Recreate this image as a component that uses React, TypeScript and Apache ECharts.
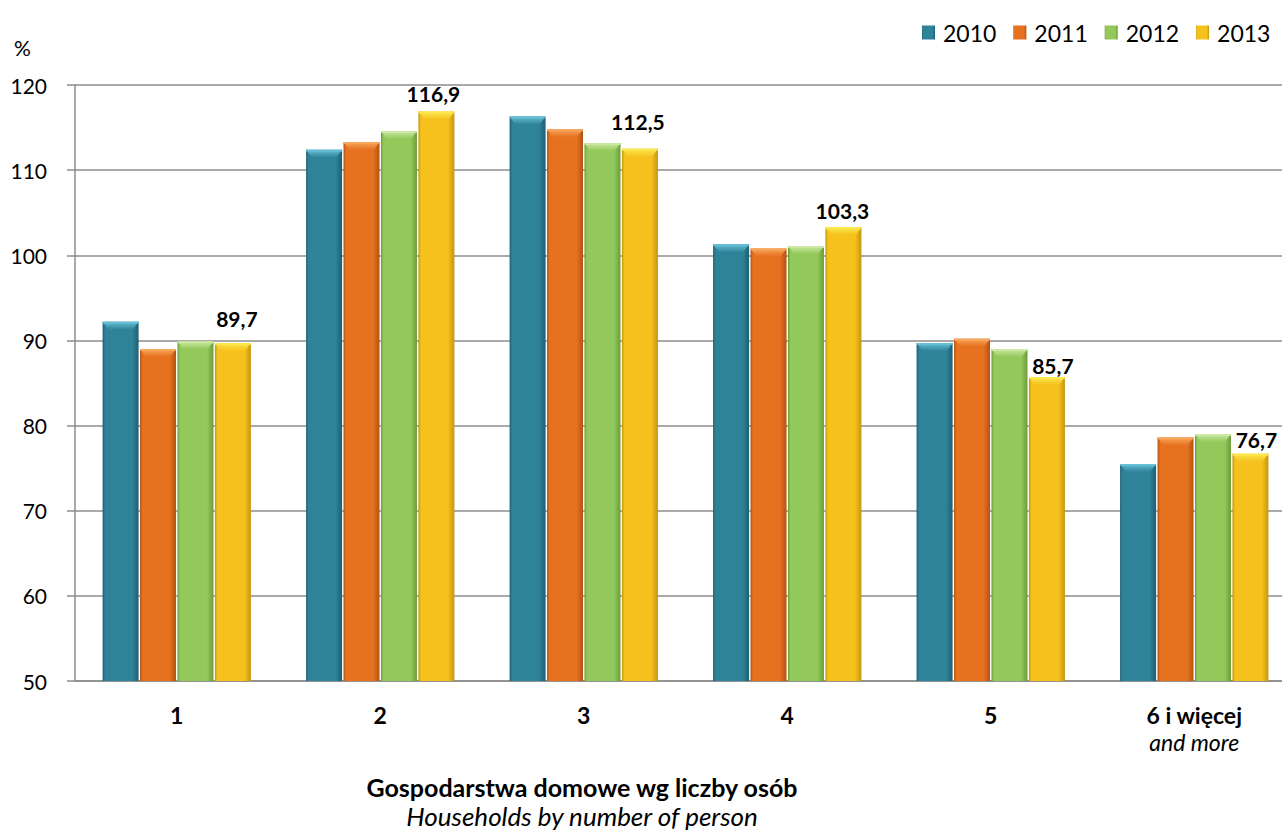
import React, { useEffect, useRef } from "react";
import * as echarts from "echarts";

const categories = ["1", "2", "3", "4", "5", "6 i więcej"];
const years = ["2010", "2011", "2012", "2013"];
const values2010 = [92.2, 112.4, 116.3, 101.3, 89.7, 75.5];
const values2011 = [89.0, 113.3, 114.8, 100.8, 90.2, 78.6];
const values2012 = [89.9, 114.6, 113.2, 101.1, 89.0, 79.0];
const values2013 = [89.7, 116.9, 112.5, 103.3, 85.7, 76.7];
const yMin = 50;
const yMax = 120;
const yStep = 10;

const palette = [
  { base: "#2f8399", light: "#66c0d8", dark: "#1d5f72" },
  { base: "#e6711f", light: "#f7a75c", dark: "#b25312" },
  { base: "#93c95a", light: "#cde8a6", dark: "#6c9c3b" },
  { base: "#f6c11d", light: "#fae84e", dark: "#c3960e" },
];

const labelOffsets = [
  [4, -14],
  [-3, -7],
  [-2, -17],
  [-1, -6],
  [6, -1],
  [6, -4],
];

const BAR_W = 36;
const BAR_GAP = 1.44;
const FONT = "Lato, 'Open Sans', sans-serif";

function fmt(v: number) {
  return v.toFixed(1).replace(".", ",");
}

export default function App() {
  const ref = useRef<HTMLDivElement>(null);
  useEffect(() => {
    if (!ref.current) return;
    const chart = echarts.init(ref.current, undefined, { renderer: "svg" });
    const seriesValues = [values2010, values2011, values2012, values2013];

    const barSeries: any[] = seriesValues.map((vals, k) => {
      const p = palette[k];
      return {
        name: years[k],
        type: "bar",
        barWidth: BAR_W,
        barGap: "4%",
        z: 2,
        itemStyle: {
          color: new echarts.graphic.LinearGradient(0, 0, 1, 0, [
            { offset: 0, color: p.dark },
            { offset: 0.07, color: p.base },
            { offset: 0.82, color: p.base },
            { offset: 1, color: p.dark },
          ]),
        },
        data:
          k === 3
            ? vals.map((v, i) => ({
                value: v,
                label: {
                  show: true,
                  position: "top",
                  distance: 0,
                  offset: labelOffsets[i],
                  formatter: (pp: any) => fmt(pp.value),
                  fontFamily: FONT,
                  fontWeight: "bold",
                  fontSize: 21,
                  color: "#000",
                },
              }))
            : vals,
      };
    });

    const bevelData = categories.map((_, i) => [
      i,
      values2010[i],
      values2011[i],
      values2012[i],
      values2013[i],
    ]);

    const bevelSeries = {
      type: "custom",
      name: "bevel",
      silent: true,
      z: 3,
      encode: { x: 0, y: [1, 2, 3, 4] },
      data: bevelData,
      renderItem: (params: any, api: any) => {
        const idx = api.value(0);
        const cx = api.coord([idx, yMin])[0];
        const total = 4 * BAR_W + 3 * BAR_GAP;
        const children: any[] = [];
        for (let k = 0; k < 4; k++) {
          const v = api.value(k + 1);
          const top = api.coord([idx, v])[1];
          const x0 = cx - total / 2 + k * (BAR_W + BAR_GAP);
          const x1 = x0 + BAR_W;
          const p = palette[k];
          children.push({
            type: "polygon",
            shape: {
              points: [
                [x0, top],
                [x1, top],
                [x1 - 6, top + 8],
                [x0 + 6, top + 8],
              ],
            },
            style: {
              fill: new echarts.graphic.LinearGradient(0, 0, 0, 1, [
                { offset: 0, color: p.light },
                { offset: 1, color: p.base },
              ]),
            },
          });
          children.push({
            type: "rect",
            shape: { x: x0, y: top, width: BAR_W, height: 2 },
            style: { fill: p.light, opacity: 0.8 },
          });
        }
        return { type: "group", children };
      },
    };

    chart.setOption({
      animation: false,
      backgroundColor: "#ffffff",
      textStyle: { fontFamily: FONT },
      legend: {
        data: years,
        left: 917,
        top: 16,
        itemWidth: 13,
        itemHeight: 14,
        itemGap: 17,
        icon: "rect",
        textStyle: {
          fontFamily: FONT,
          fontSize: 23,
          color: "#000",
          padding: [0, 0, 0, 3],
        },
      },
      grid: {
        left: 75,
        top: 85,
        right: 0,
        height: 596,
        containLabel: false,
      },
      xAxis: {
        type: "category",
        data: categories,
        axisLine: { lineStyle: { color: "#8c8c8c", width: 1.5 } },
        axisTick: { show: false },
        axisLabel: {
          margin: 20,
          color: "#000",
          formatter: (v: string) =>
            v === "6 i więcej"
              ? "{b|6 i więcej}\n{i|and more}"
              : "{b|" + v + "}",
          rich: {
            b: {
              fontFamily: FONT,
              fontWeight: "bold",
              fontSize: 23,
              lineHeight: 27,
              color: "#000",
            },
            i: {
              fontFamily: FONT,
              fontStyle: "italic",
              fontSize: 23,
              lineHeight: 27,
              color: "#000",
            },
          },
        },
      },
      yAxis: {
        type: "value",
        min: yMin,
        max: yMax,
        interval: yStep,
        axisLine: { show: true, lineStyle: { color: "#8c8c8c", width: 1.5 } },
        axisTick: {
          show: true,
          inside: false,
          length: 8,
          lineStyle: { color: "#8c8c8c", width: 1.5 },
        },
        splitLine: { lineStyle: { color: "#8c8c8c", width: 1.5 } },
        axisLabel: {
          margin: 28,
          color: "#000",
          fontFamily: FONT,
          fontSize: 21,
        },
      },
      graphic: [
        {
          type: "text",
          left: 14,
          top: 37,
          style: {
            text: "%",
            fontFamily: FONT,
            fontSize: 21,
            fill: "#000",
          },
        },
        {
          type: "text",
          x: 582,
          y: 787,
          style: {
            text: "Gospodarstwa domowe wg liczby osób",
            fontFamily: FONT,
            fontWeight: "bold",
            fontSize: 25,
            lineHeight: 25,
            fill: "#000",
            align: "center",
            verticalAlign: "middle",
          },
        },
        {
          type: "text",
          x: 582,
          y: 816,
          style: {
            text: "Households by number of person",
            fontFamily: FONT,
            fontStyle: "italic",
            fontSize: 26,
            lineHeight: 26,
            fill: "#000",
            align: "center",
            verticalAlign: "middle",
          },
        },
      ],
      series: [...barSeries, bevelSeries],
    });
    return () => chart.dispose();
  }, []);
  return (
    <div
      ref={ref}
      style={{ position: "fixed", left: 0, top: 0, width: 1296, height: 833 }}
    />
  );
}
